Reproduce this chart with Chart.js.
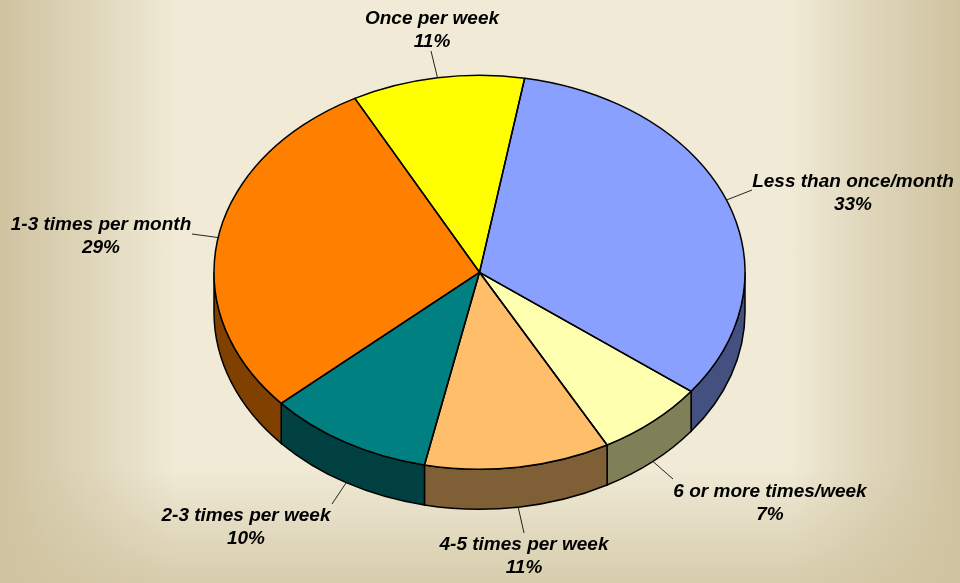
<!DOCTYPE html>
<html>
<head>
<meta charset="utf-8">
<title>Frequency pie</title>
<script src="https://cdn.jsdelivr.net/npm/chart.js@4"></script>
<style>
html, body { margin: 0; padding: 0; }
body {
    width: 960px;
    height: 583px;
    overflow: hidden;
    background:
        linear-gradient(to right, rgba(207,195,160,1) 0, rgba(207,195,160,.55) 85px, rgba(207,195,160,0) 175px, rgba(207,195,160,0) 790px, rgba(207,195,160,.55) 875px, rgba(207,195,160,1) 960px),
        linear-gradient(to top, rgba(214,203,170,.95) 0, rgba(214,203,170,0) 115px),
        radial-gradient(ellipse 300px 220px at 480px 290px, #f6edd6 40%, rgba(246,237,214,0) 100%),
        #f0ead6;
}
canvas { display: block; }
</style>
</head>
<body>
<canvas id="pie" width="960" height="583"></canvas>
<script>
// Data
var categories = ["Less than once/month", "6 or more times/week", "4-5 times per week", "2-3 times per week", "1-3 times per month", "Once per week"];
var shares = [32.6, 6.7, 11.3, 10.1, 28.8, 10.5];
var topColors = ["#8aa0ff", "#ffffb0", "#ffbf6a", "#008080", "#ff8000", "#ffff00"];
var sideColors = ["#445080", "#7f7f58", "#7f5f35", "#004040", "#804000", "#808000"];

// Layout of the tilted pie
var centerX = 479.5, centerY = 272.3, radiusX = 265.5, radiusY = 197, depth = 40;
var firstAngle = 9.8;
var labelSpots = [[853, 182], [770, 492], [524, 545], [246, 516], [101, 225], [432, 19]];
var leaderEnds = [[752, 190], [673, 479], [524, 533], [332, 504], [192, 234], [431, 51]];

function edgePoint(angle) {
    var x = centerX + radiusX * Math.cos(angle);
    var y = centerY + radiusY * Math.sin(angle);
    if (Math.sin(angle) > 0) y += depth;
    return [x, y];
}

function slicePath(ctx, arc) {
    ctx.beginPath();
    ctx.moveTo(centerX, centerY);
    ctx.ellipse(centerX, centerY, radiusX, radiusY, 0, arc.startAngle, arc.endAngle);
    ctx.closePath();
}

// Draws the side wall of every slice, for the part on the near half of the ellipse
function drawWalls(ctx, arcs) {
    arcs.forEach(function (arc, i) {
        var ranges = [[arc.startAngle, arc.endAngle], [arc.startAngle - 2 * Math.PI, arc.endAngle - 2 * Math.PI]];
        ranges.forEach(function (r) {
            var a0 = Math.max(r[0], 0), a1 = Math.min(r[1], Math.PI);
            if (a1 <= a0) return;
            ctx.beginPath();
            ctx.ellipse(centerX, centerY, radiusX, radiusY, 0, a0, a1);
            ctx.ellipse(centerX, centerY + depth, radiusX, radiusY, 0, a1, a0, true);
            ctx.closePath();
            ctx.fillStyle = sideColors[i];
            ctx.fill();
            ctx.lineWidth = 1.5;
            ctx.strokeStyle = "#000000";
            ctx.stroke();
        });
    });
}

var tiltedPie = {
    id: "tiltedPie",
    beforeDatasetsDraw: function (chart) {
        var ctx = chart.ctx;
        var arcs = chart.getDatasetMeta(0).data;
        drawWalls(ctx, arcs);
        ctx.save();
        ctx.translate(centerX, centerY);
        ctx.scale(1, radiusY / radiusX);
        ctx.translate(-arcs[0].x, -arcs[0].y);
    },
    afterDatasetsDraw: function (chart) {
        var ctx = chart.ctx;
        var arcs = chart.getDatasetMeta(0).data;
        ctx.restore();

        //slice outlines, kept out of the squash so the line stays even
        ctx.lineWidth = 1.5;
        ctx.strokeStyle = "#000000";
        ctx.lineJoin = "round";
        arcs.forEach(function (arc) {
            slicePath(ctx, arc);
            ctx.stroke();
        });

        //leader lines and labels
        arcs.forEach(function (arc, i) {
            var p = edgePoint((arc.startAngle + arc.endAngle) / 2);
            ctx.beginPath();
            ctx.moveTo(p[0], p[1]);
            ctx.lineTo(leaderEnds[i][0], leaderEnds[i][1]);
            ctx.lineWidth = 1;
            ctx.strokeStyle = "#222222";
            ctx.stroke();

            ctx.fillStyle = "#000000";
            ctx.font = "italic bold 19px 'Liberation Sans'";
            ctx.textAlign = "center";
            ctx.textBaseline = "middle";
            ctx.fillText(categories[i], labelSpots[i][0], labelSpots[i][1]);
            ctx.fillText(Math.round(shares[i]) + "%", labelSpots[i][0], labelSpots[i][1] + 23);
        });
    }
};

var myPie = new Chart(document.getElementById("pie").getContext("2d"), {
    type: "pie",
    data: {
        labels: categories,
        datasets: [{
            data: shares,
            backgroundColor: topColors,
            borderWidth: 0,
            radius: radiusX
        }]
    },
    options: {
        responsive: false,
        animation: false,
        rotation: firstAngle,
        plugins: {
            legend: { display: false },
            tooltip: { enabled: false }
        }
    },
    plugins: [tiltedPie]
});
</script>
</body>
</html>
